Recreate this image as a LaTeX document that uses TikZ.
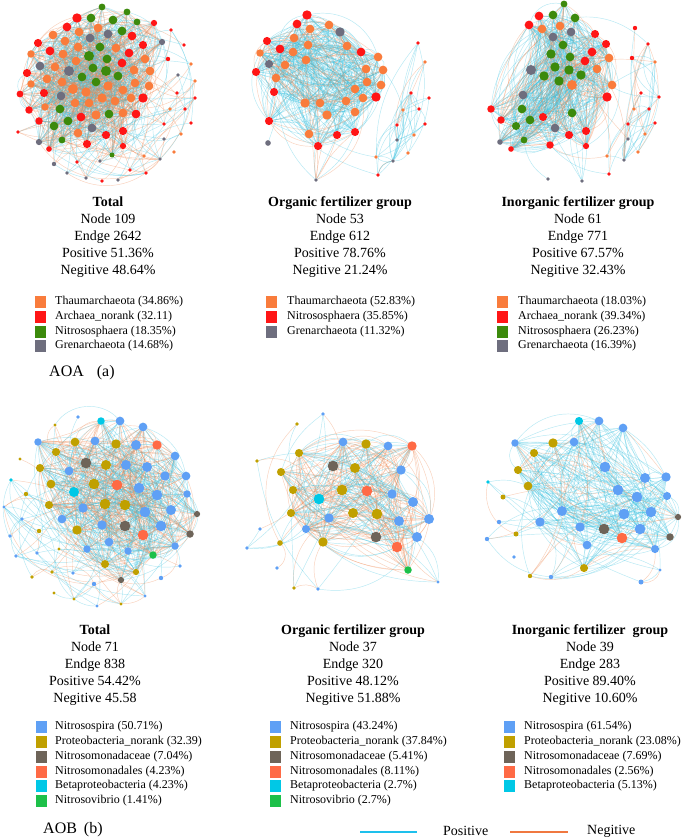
\documentclass[tikz,border=0pt]{standalone}
\usepackage{fontspec}
\setmainfont{Liberation Serif}
\pgfdeclarelayer{bglayer}
\pgfdeclarelayer{edgelayer}
\pgfsetlayers{bglayer,edgelayer,main}
\definecolor{cT}{HTML}{F97C3C}
\definecolor{cA}{HTML}{FF1616}
\definecolor{cN}{HTML}{3C8A0C}
\definecolor{cG}{HTML}{6E6E7E}
\definecolor{cB}{HTML}{5FA0F5}
\definecolor{cP}{HTML}{C0A000}
\definecolor{cM}{HTML}{6E6459}
\definecolor{cO}{HTML}{FF6A45}
\definecolor{cC}{HTML}{00C8E6}
\definecolor{cV}{HTML}{1DC049}
\definecolor{ePos}{HTML}{3EC4E2}
\definecolor{eNeg}{HTML}{F0864F}
\definecolor{lPos}{HTML}{1EC0EC}
\definecolor{lNeg}{HTML}{F07840}
\tikzset{
  netnode/.style={circle,inner sep=0pt,outer sep=0pt,draw=none},
  edgepos/.style={draw=ePos,line width=0.45pt,draw opacity=0.38},
  edgeneg/.style={draw=eNeg,line width=0.45pt,draw opacity=0.38},
  stats/.style={font=\fontsize{14}{17}\selectfont,align=center,inner sep=0pt},
  legsq/.style={minimum width=11pt,minimum height=12pt,inner sep=0pt,draw=none},
  legtxt/.style={font=\fontsize{12}{14}\selectfont,anchor=west,inner sep=0pt},
  paneltag/.style={font=\fontsize{16}{18}\selectfont,anchor=west,inner sep=0pt},
  keytxt/.style={font=\fontsize{14}{16}\selectfont,anchor=west,inner sep=0pt},
  keypos/.style={draw=lPos,line width=1.6pt},
  keyneg/.style={draw=lNeg,line width=1.6pt}
}
\newcommand\netnodes[3]{%
  \pgfmathtruncatemacro\nstart{#2}%
  \foreach \nx/\ny/\nc/\nd [count=\ni from \nstart] in {#3}{%
    \node[netnode,fill=\nc,minimum size={1.25*\nd pt}] (#1\ni) at (\nx,\ny) {};
    \xdef\lastN{\ni}}}
% #1 prefix #2 a1 #3 b1 #4 a2 #5 b2 #6 count #7 positive ratio #8 max bend
\newcommand\netedges[8]{%
  \foreach \k in {1,...,#6}{%
    \pgfmathtruncatemacro\ea{min(#3,#2+int(rnd*(#3-#2+1)))}%
    \pgfmathtruncatemacro\eb{min(#5,#4+int(rnd*(#5-#4+1)))}%
    \pgfmathsetmacro\eu{rnd}%
    \pgfmathtruncatemacro\eg{int(rnd*(2*#8+1))-#8}%
    \ifnum\ea=\eb\relax\else
      \ifdim\eu pt<#7pt\relax
        \draw[edgepos] (#1\ea) to[bend left=\eg] (#1\eb);
      \else
        \draw[edgeneg] (#1\ea) to[bend left=\eg] (#1\eb);
      \fi
    \fi}}
\begin{document}
\begin{tikzpicture}[x=1pt,y=-1pt]
\pgfmathsetseed{20240}
\begin{pgfonlayer}{bglayer}
\fill[white] (0,0) rectangle (685,840);
\end{pgfonlayer}
\useasboundingbox (0,0) rectangle (685,840);

%================ AOA Total =================
\netnodes{aa}{1}{102/7/cN/5.5, 91/18/cN/7, 113/20/cN/7, 127/12/cN/5.5, 137/22/cN/5.5, 122/31/cN/7, 100/47/cN/7, 89/56/cN/8, 107/59/cN/7, 93/68/cN/7, 106/71/cN/8, 118/76/cN/7, 82/77/cN/7, 96/82/cN/7, 60/109/cN/7, 109/114/cN/7, 68/121/cN/7, 54/126/cN/7, 62/140/cN/5.5, 112/155/cN/4,
77/18/cA/7.5, 67/27/cA/7, 38/43/cA/6.5, 50/51/cA/7, 132/36/cA/7, 143/45/cA/6.5, 129/53/cA/7, 122/63/cA/7, 27/73/cA/6.5, 44/93/cA/6.5, 20/94/cA/5.5, 143/98/cA/7.5, 29/110/cA/6, 136/114/cA/7, 39/121/cA/6, 81/117/cA/7, 106/135/cA/6.5, 123/131/cA/6.5, 87/144/cA/6.5, 49/149/cA/4.5, 123/146/cA/5, 154/23/cA/5,
53/35/cT/7, 79/32/cT/7, 98/28/cT/7, 65/41/cT/7, 31/54/cT/6, 78/47/cT/7, 116/48/cT/7, 63/54/cT/7, 76/61/cT/7, 55/67/cT/7, 145/59/cT/7, 134/70/cT/7, 150/71/cT/7, 47/79/cT/7, 62/82/cT/7, 31/84/cT/6, 73/89/cT/8, 86/92/cT/7.5, 108/86/cT/7.5, 123/90/cT/7, 135/83/cT/7, 149/86/cT/7, 102/98/cT/7.5, 89/103/cT/7, 75/103/cT/7, 115/101/cT/7, 131/98/cT/7, 45/107/cT/6, 96/115/cT/7.5, 123/113/cT/7, 78/133/cT/7,
108/34/cG/7, 90/38/cG/7, 162/42/cG/5, 40/66/cG/7, 69/71/cG/8, 61/96/cG/7, 92/128/cG/7, 39/142/cG/5}
\edef\aaM{\lastN}
\netnodes{aa}{\aaM+1}{171/30/cA/3, 184/45/cA/3, 168/59/cA/3.5, 177/93/cA/3, 195/98/cA/3, 185/109/cA/3, 191/123/cA/3, 164/124/cA/3, 18/132/cA/3, 77/162/cA/3, 130/170/cA/3, 146/173/cA/3, 102/181/cA/3,
191/64/cT/3, 195/81/cT/3, 170/109/cT/3, 181/134/cT/3, 174/152/cT/3, 144/156/cT/3,
178/75/cG/3, 164/139/cG/3, 54/164/cG/3.5, 67/173/cG/3, 86/178/cG/3, 100/161/cG/3, 118/180/cG/3, 160/159/cG/3}
\edef\aaN{\lastN}

%================ AOA Organic =================
\netnodes{ab}{1}{307/15/cA/7.5, 297/24/cA/7, 267/41/cA/6.5, 280/49/cA/7, 361/52/cA/7, 256/72/cA/6.5, 274/92/cA/6.5, 376/97/cA/7.5, 269/121/cA/6.5, 337/135/cA/6.5, 355/132/cA/6.5, 318/146/cA/6.5,
329/25/cT/7, 310/29/cT/7, 294/38/cT/7, 308/45/cT/7, 347/46/cT/7, 260/53/cT/6, 293/52/cT/7, 306/60/cT/7, 285/65/cT/7, 378/57/cT/7, 366/69/cT/7, 383/70/cT/7, 276/78/cT/7, 367/82/cT/7, 381/85/cT/7, 355/89/cT/7, 363/98/cT/7, 346/101/cT/7, 305/103/cT/7.5, 320/103/cT/7, 355/112/cT/7, 327/115/cT/7.5, 309/134/cT/7,
340/32/cG/7.5, 269/64/cG/6.5}
\edef\abM{\lastN}
\netnodes{ab}{\abM+1}{268/143/cG/4.5, 316/180/cG/3}
\edef\abL{\lastN}
\netnodes{ab}{\abL+1}{418/43/cA/3, 411/93/cA/3, 429/98/cA/3, 419/109/cA/3, 397/125/cA/3, 425/124/cA/3, 378/175/cA/3, 425/62/cT/3, 403/110/cT/3, 414/135/cT/3, 408/153/cT/3, 376/157/cT/3, 397/140/cG/3, 393/161/cG/3}
\edef\abN{\lastN}

%================ AOA Inorganic =================
\netnodes{ac}{1}{564/4/cN/5.5, 553/15/cN/7, 575/18/cN/7, 563/45/cN/7, 551/54/cN/7.5, 570/57/cN/7, 555/67/cN/7.5, 569/70/cN/7.5, 581/75/cN/7.5, 544/76/cN/7.5, 559/81/cN/7.5, 522/109/cN/7, 572/113/cN/7, 530/120/cN/7, 516/126/cN/6.5, 524/140/cN/5.5,
539/16/cA/7, 529/25/cA/7, 595/34/cA/6.5, 606/44/cA/6.5, 592/52/cA/7, 585/61/cA/7, 607/97/cA/7.5, 491/109/cA/6, 501/120/cA/6, 543/117/cA/6.5, 569/135/cA/6.5, 586/131/cA/6.5, 550/145/cA/6, 511/149/cA/4.5, 586/146/cA/5,
542/29/cT/7, 560/26/cT/7, 609/58/cT/7, 597/69/cT/7, 572/85/cT/8, 612/85/cT/7,
553/37/cG/7, 571/32/cG/7, 531/70/cG/8, 523/95/cG/7, 555/128/cG/7, 500/142/cG/4.5}
\edef\acM{\lastN}
\netnodes{ac}{\acM+1}{548/179/cG/3, 582/181/cG/3}
\edef\acL{\lastN}
\netnodes{ac}{\acL+1}{635/28/cA/3.5, 648/44/cA/3, 632/58/cA/3.5, 641/93/cA/3, 659/97/cA/3, 649/109/cA/3, 628/124/cA/3, 655/123/cA/3, 609/174/cA/3, 655/62/cT/3, 634/109/cT/3, 645/134/cT/3, 638/152/cT/3, 607/156/cT/3, 628/139/cG/3, 624/160/cG/3}
\edef\acN{\lastN}

%================ AOB Total =================
\netnodes{ba}{1}{101/421/cC/6, 74/492/cC/8,
120/421/cB/7, 143/427/cB/7, 38/442/cB/6, 95/441/cB/7, 136/445/cB/8, 175/456/cB/7, 126/465/cB/8, 147/467/cB/8, 69/471/cB/7, 165/476/cB/7.5, 186/476/cB/7, 139/488/cB/8.5, 187/494/cB/6, 157/495/cB/8.5, 83/508/cB/7.5, 171/510/cB/8, 145/512/cB/8.5, 62/519/cB/7, 102/525/cB/7.5, 161/526/cB/8.5, 109/542/cB/7, 175/546/cB/6, 87/549/cB/6, 128/551/cB/6,
75/442/cP/7, 116/444/cP/7.5, 56/452/cP/6.5, 106/465/cP/8, 40/468/cP/6.5, 94/484/cP/8.5, 51/484/cP/7, 49/505/cP/6.5, 105/504/cP/8.5, 125/505/cP/8.5, 77/530/cP/7.5, 105/564/cP/6.5, 136/572/cP/5,
86/463/cM/8.5, 125/526/cM/8.5, 197/514/cM/5, 190/534/cM/6, 121/580/cM/5,
157/445/cO/7.5, 117/485/cO/8.5, 143/535/cO/8.5,
153/555/cV/6}
\edef\baM{\lastN}
\netnodes{ba}{\baM+1}{11/480/cC/3, 78/417/cB/3, 22/519/cB/3, 10/536/cB/3, 37/553/cB/3, 16/556/cB/3, 73/573/cB/3, 180/566/cB/3, 161/578/cB/3.5, 145/596/cB/2.5, 97/606/cB/2.5, 94/584/cB/3.5, 4/507/cB/2.5,
55/425/cP/2.5, 20/459/cP/2.5, 26/494/cP/3.5, 39/531/cP/3.5, 59/549/cP/2.5, 52/572/cP/3, 32/577/cP/3, 54/593/cP/2.5, 74/599/cP/2.5, 121/604/cP/2.5}
\edef\baN{\lastN}

%================ AOB Organic =================
\netnodes{bb}{1}{343/442/cB/7, 388/446/cB/7, 401/470/cB/7.5, 392/494/cB/7.5, 413/502/cB/8, 429/519/cB/8, 329/518/cB/7.5, 399/521/cB/8, 417/537/cB/8, 306/529/cB/6.5,
366/444/cP/7.5, 299/453/cP/6.5, 355/468/cP/8, 281/472/cP/6.5, 293/490/cP/6.5, 342/490/cP/8.5, 291/513/cP/6.5, 353/513/cP/8, 377/514/cP/8.5, 323/542/cP/7.5,
333/466/cM/8.5, 376/537/cM/8.5,
412/446/cO/7.5, 367/491/cO/8.5, 397/547/cO/8.5,
319/499/cC/8.5,
408/570/cV/6}
\edef\bbM{\lastN}
\netnodes{bb}{\bbM+1}{280/543/cP/4.5, 297/424/cP/3, 257/461/cP/3, 294/588/cP/3, 323/414/cB/3, 260/529/cB/3, 247/548/cB/3, 277/568/cB/3, 318/589/cB/3, 438/582/cB/2.5}
\edef\bbN{\lastN}

%================ AOB Inorganic =================
\netnodes{bc}{1}{579/421/cC/6.5,
599/421/cB/7, 623/428/cB/7, 515/443/cB/6, 574/442/cB/7, 605/467/cB/8.5, 645/478/cB/8, 666/477/cB/7.5, 618/490/cB/8.5, 637/497/cB/8.5, 667/496/cB/6.5, 562/511/cB/8, 651/512/cB/8.5, 624/514/cB/8.5, 540/522/cB/7.5, 580/527/cB/7.5, 640/529/cB/8.5, 587/545/cB/7, 655/549/cB/6.5,
553/443/cP/7.5, 534/453/cP/6.5, 518/470/cP/6.5, 528/486/cP/7,
604/529/cM/8.5, 678/517/cM/5, 670/537/cM/6,
622/538/cO/8.5,
584/568/cP/6.5}
\edef\bcM{\lastN}
\netnodes{bc}{\bcM+1}{488/482/cC/3, 499/522/cB/3.5, 487/539/cB/3.5, 514/557/cB/3, 551/577/cB/3.5, 641/582/cB/4, 660/570/cB/2.5, 503/497/cP/4, 516/534/cP/4, 530/576/cP/3.5}
\edef\bcN{\lastN}

%================ edges =================
\begin{pgfonlayer}{edgelayer}
\netedges{aa}{1}{\aaM}{1}{\aaM}{950}{0.5136}{45}
\netedges{aa}{\aaM+1}{\aaN}{1}{\aaM}{70}{0.5136}{60}
\netedges{aa}{\aaM+1}{\aaN}{\aaM+1}{\aaN}{30}{0.6}{45}
\netedges{ab}{1}{\abM}{1}{\abM}{520}{0.7876}{45}
\netedges{ab}{\abM+1}{\abL}{1}{\abM}{12}{0.3}{40}
\netedges{ab}{\abL+1}{\abN}{\abL+1}{\abN}{50}{0.75}{35}
\netedges{ab}{\abL+1}{\abN}{1}{\abM}{3}{1}{40}
\netedges{ac}{1}{\acM}{1}{\acM}{600}{0.6757}{45}
\netedges{ac}{\acM+1}{\acL}{1}{\acM}{6}{1}{50}
\netedges{ac}{\acL+1}{\acN}{\acL+1}{\acN}{50}{0.7}{35}
\netedges{ac}{\acL+1}{\acN}{1}{\acM}{10}{0.5}{40}
\netedges{ba}{1}{\baM}{1}{\baM}{600}{0.5442}{45}
\netedges{ba}{\baM+1}{\baN}{1}{\baN}{80}{0.6}{60}
\netedges{bb}{1}{\bbM}{1}{\bbM}{330}{0.4812}{45}
\netedges{bb}{\bbM+1}{\bbN}{1}{\bbN}{30}{0.6}{55}
\netedges{bc}{1}{\bcM}{1}{\bcM}{280}{0.894}{45}
\netedges{bc}{\bcM+1}{\bcN}{1}{\bcN}{32}{0.75}{55}
\end{pgfonlayer}

%================ AOA texts =================
\node[stats] (s1) at (108,237) {\textbf{Total}\\Node 109\\Endge 2642\\Positive 51.36\%\\Negitive 48.64\%};
\node[stats] (s2) at (340,237) {\textbf{Organic fertilizer group}\\Node 53\\Endge 612\\Positive 78.76\%\\Negitive 21.24\%};
\node[stats] (s3) at (578,237) {\textbf{Inorganic fertilizer group}\\Node 61\\Endge 771\\Positive 67.57\%\\Negitive 32.43\%};

\node[legsq,fill=cT] (k11) at (40,302) {};
\node[legsq,fill=cA] (k12) at (40,317) {};
\node[legsq,fill=cN] (k13) at (40,332) {};
\node[legsq,fill=cG] (k14) at (40,346) {};
\node[legtxt] (t11) at (55,302) {Thaumarchaeota (34.86\%)};
\node[legtxt] (t12) at (55,317) {Archaea\_norank (32.11)};
\node[legtxt] (t13) at (55,332) {Nitrososphaera (18.35\%)};
\node[legtxt] (t14) at (55,346) {Grenarchaeota (14.68\%)};

\node[legsq,fill=cT] (k21) at (271.5,302) {};
\node[legsq,fill=cA] (k22) at (271.5,317) {};
\node[legsq,fill=cG] (k23) at (271.5,332) {};
\node[legtxt] (t21) at (287,302) {Thaumarchaeota (52.83\%)};
\node[legtxt] (t22) at (287,317) {Nitrososphaera (35.85\%)};
\node[legtxt] (t23) at (287,332) {Grenarchaeota (11.32\%)};

\node[legsq,fill=cT] (k31) at (502.5,302) {};
\node[legsq,fill=cA] (k32) at (502.5,317) {};
\node[legsq,fill=cN] (k33) at (502.5,332) {};
\node[legsq,fill=cG] (k34) at (502.5,346) {};
\node[legtxt] (t31) at (518,302) {Thaumarchaeota (18.03\%)};
\node[legtxt] (t32) at (518,317) {Archaea\_norank (39.34\%)};
\node[legtxt] (t33) at (518,332) {Nitrososphaera (26.23\%)};
\node[legtxt] (t34) at (518,346) {Grenarchaeota (16.39\%)};

\node[paneltag] (tagA) at (49,373) {AOA\hspace{13pt}(a)};

%================ AOB texts =================
\node[stats] (s4) at (95,665) {\textbf{Total}\\Node 71\\Endge 838\\Positive 54.42\%\\Negitive 45.58};
\node[stats] (s5) at (353,665) {\textbf{Organic fertilizer group}\\Node 37\\Endge 320\\Positive 48.12\%\\Negitive 51.88\%};
\node[stats] (s6) at (590,665) {\textbf{Inorganic fertilizer\ \ group}\\Node 39\\Endge 283\\Positive 89.40\%\\Negitive 10.60\%};

\node[legsq,fill=cB] (k41) at (41,727) {};
\node[legsq,fill=cP] (k42) at (41,742) {};
\node[legsq,fill=cM] (k43) at (41,757) {};
\node[legsq,fill=cO] (k44) at (41,772) {};
\node[legsq,fill=cC] (k45) at (41,786) {};
\node[legsq,fill=cV] (k46) at (41,801) {};
\node[legtxt] (t41) at (55,727) {Nitrosospira (50.71\%)};
\node[legtxt] (t42) at (55,742) {Proteobacteria\_norank (32.39)};
\node[legtxt] (t43) at (55,757) {Nitrosomonadaceae (7.04\%)};
\node[legtxt] (t44) at (55,772) {Nitrosomonadales (4.23\%)};
\node[legtxt] (t45) at (55,786) {Betaproteobacteria (4.23\%)};
\node[legtxt] (t46) at (55,801) {Nitrosovibrio (1.41\%)};

\node[legsq,fill=cB] (k51) at (275.5,727) {};
\node[legsq,fill=cP] (k52) at (275.5,742) {};
\node[legsq,fill=cM] (k53) at (275.5,757) {};
\node[legsq,fill=cO] (k54) at (275.5,772) {};
\node[legsq,fill=cC] (k55) at (275.5,786) {};
\node[legsq,fill=cV] (k56) at (275.5,801) {};
\node[legtxt] (t51) at (290,727) {Nitrosospira (43.24\%)};
\node[legtxt] (t52) at (290,742) {Proteobacteria\_norank (37.84\%)};
\node[legtxt] (t53) at (290,757) {Nitrosomonadaceae (5.41\%)};
\node[legtxt] (t54) at (290,772) {Nitrosomonadales (8.11\%)};
\node[legtxt] (t55) at (290,786) {Betaproteobacteria (2.7\%)};
\node[legtxt] (t56) at (290,801) {Nitrosovibrio (2.7\%)};

\node[legsq,fill=cB] (k61) at (509.5,727) {};
\node[legsq,fill=cP] (k62) at (509.5,742) {};
\node[legsq,fill=cM] (k63) at (509.5,757) {};
\node[legsq,fill=cO] (k64) at (509.5,772) {};
\node[legsq,fill=cC] (k65) at (509.5,786) {};
\node[legtxt] (t61) at (524,727) {Nitrosospira (61.54\%)};
\node[legtxt] (t62) at (524,742) {Proteobacteria\_norank (23.08\%)};
\node[legtxt] (t63) at (524,757) {Nitrosomonadaceae (7.69\%)};
\node[legtxt] (t64) at (524,772) {Nitrosomonadales (2.56\%)};
\node[legtxt] (t65) at (524,786) {Betaproteobacteria (5.13\%)};

\node[paneltag] (tagB) at (43,830) {AOB\hspace{7pt}(b)};

\coordinate (pa) at (360,832);
\coordinate (pb) at (417,832);
\draw[keypos] (pa) -- (pb);
\node[keytxt] (kp) at (443,831) {Positive};
\coordinate (na) at (510,832);
\coordinate (nb) at (568,832);
\draw[keyneg] (na) -- (nb);
\node[keytxt] (kn) at (587,831) {Negitive};
\end{tikzpicture}
\end{document}
